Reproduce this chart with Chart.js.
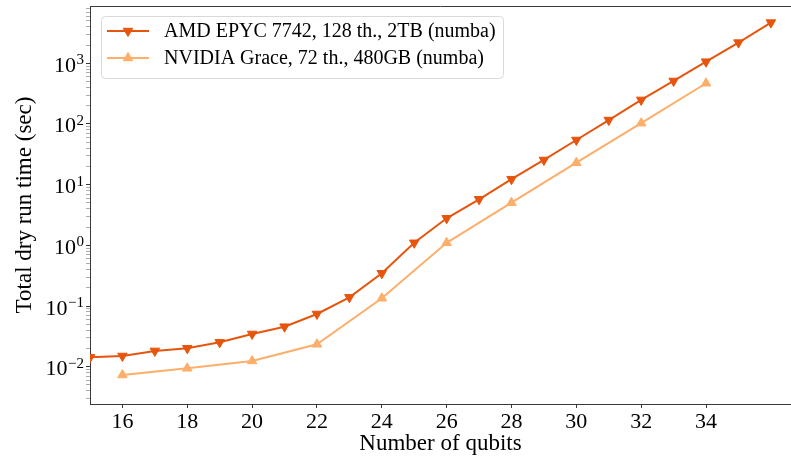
<!DOCTYPE html>
<html>
<head>
<meta charset="utf-8">
<script src="https://cdn.jsdelivr.net/npm/chart.js@4.4.0/dist/chart.umd.min.js"></script>
<style>
html, body { margin: 0; padding: 0; background: #fff; }
</style>
</head>
<body>
<canvas id="dryRunChart" width="791" height="457"></canvas>
<script>
// qubit counts and total dry run time (sec)
const QUBITS_AMD = [15, 16, 17, 18, 19, 20, 21, 22, 23, 24, 25, 26, 27, 28, 29, 30, 31, 32, 33, 34, 35, 36];
const TIME_AMD = [0.0143, 0.0150, 0.0182, 0.0201, 0.0252, 0.0346, 0.0456, 0.0738, 0.139, 0.346, 1.10, 2.79, 5.74, 12.3, 25.5, 54.4, 116, 249, 511, 1062, 2190, 4680];

const QUBITS_GRACE = [16, 18, 20, 22, 24, 26, 28, 30, 32, 34];
const TIME_GRACE = [0.0073, 0.0094, 0.0124, 0.0234, 0.134, 1.10, 5.05, 23.0, 103, 469];

const LABEL_AMD = 'AMD EPYC 7742, 128 th., 2TB (numba)';
const LABEL_GRACE = 'NVIDIA Grace, 72 th., 480GB (numba)';

const X_TICKS = [16, 18, 20, 22, 24, 26, 28, 30, 32, 34];
const Y_DECADES = [-2, -1, 0, 1, 2, 3];

const SERIF = "'Liberation Serif', 'Times New Roman', 'DejaVu Serif', serif";
const AXIS_COLOR = '#3a3a3a';

function toPoints(xs, ys) {
    return xs.map((x, i) => ({x: x, y: ys[i]}));
}

// 10^n labels with a real superscript, placed through the y scale
const decadeLabels = {
    id: 'decadeLabels',
    afterDraw(chart) {
        const {ctx} = chart;
        const yScale = chart.scales.y;
        const right = yScale.right - 6;
        ctx.save();
        ctx.fillStyle = '#000';
        ctx.textBaseline = 'alphabetic';
        Y_DECADES.forEach(e => {
            const py = yScale.getPixelForValue(Math.pow(10, e));
            const exp = e < 0 ? '\u2212' + (-e) : String(e);
            ctx.font = '15px ' + SERIF;
            const ew = ctx.measureText(exp).width;
            ctx.fillText(exp, right - ew, py + 1);
            ctx.font = '22px ' + SERIF;
            const bw = ctx.measureText('10').width;
            ctx.fillText('10', right - ew - bw - 0.5, py + 8.5);
        });
        ctx.restore();
    }
};

// matplotlib style legend box inside the axes, plus the top spine
const boxLegend = {
    id: 'boxLegend',
    afterDatasetsDraw(chart) {
        const {ctx, chartArea} = chart;
        ctx.save();
        ctx.strokeStyle = AXIS_COLOR;
        ctx.lineWidth = 1;
        ctx.beginPath();
        ctx.moveTo(chartArea.left, chartArea.top + 0.5);
        ctx.lineTo(chartArea.right, chartArea.top + 0.5);
        ctx.stroke();

        const x0 = chartArea.left + 11, y0 = chartArea.top + 10;
        ctx.beginPath();
        ctx.roundRect(x0 + 0.5, y0 + 0.5, 402, 62, 4);
        ctx.fillStyle = 'rgba(255,255,255,0.85)';
        ctx.fill();
        ctx.strokeStyle = '#d9d9d9';
        ctx.stroke();

        chart.data.datasets.forEach((ds, i) => {
            const y = y0 + 15 + i * 27;
            ctx.strokeStyle = ds.borderColor;
            ctx.lineWidth = ds.borderWidth;
            ctx.beginPath();
            ctx.moveTo(x0 + 6, y);
            ctx.lineTo(x0 + 48, y);
            ctx.stroke();

            const r = ds.pointRadius, cx = x0 + 27, dir = ds.pointRotation ? 1 : -1;
            ctx.fillStyle = ds.backgroundColor;
            ctx.lineWidth = 1;
            ctx.beginPath();
            ctx.moveTo(cx, y + dir * r);
            ctx.lineTo(cx - r * 0.866, y - dir * r / 2);
            ctx.lineTo(cx + r * 0.866, y - dir * r / 2);
            ctx.closePath();
            ctx.fill();
            ctx.stroke();

            ctx.fillStyle = '#000';
            ctx.font = '20px ' + SERIF;
            ctx.textBaseline = 'middle';
            ctx.fillText(ds.label, x0 + 63, y + 1);
        });
        ctx.restore();
    }
};

const dataDryRun = {
    datasets: [
        {
            label: LABEL_AMD,
            data: toPoints(QUBITS_AMD, TIME_AMD),
            borderColor: '#e6550d',
            backgroundColor: '#e6550d',
            borderWidth: 2,
            pointStyle: 'triangle',
            pointRotation: 180,
            pointRadius: 5.5,
            pointBorderWidth: 1
        },
        {
            label: LABEL_GRACE,
            data: toPoints(QUBITS_GRACE, TIME_GRACE),
            borderColor: '#fdae6b',
            backgroundColor: '#fdae6b',
            borderWidth: 2,
            pointStyle: 'triangle',
            pointRotation: 0,
            pointRadius: 5.5,
            pointBorderWidth: 1
        }
    ]
};

const configDryRun = {
    type: 'line',
    data: dataDryRun,
    options: {
        responsive: false,
        animation: false,
        layout: {autoPadding: false, padding: {top: 6, right: 0, left: 0, bottom: 0}},
        plugins: {
            legend: {display: false},
            tooltip: {enabled: false}
        },
        scales: {
            x: {
                type: 'linear',
                min: 15,
                max: 36.62,
                afterBuildTicks: scale => {
                    scale.ticks = X_TICKS.map(v => ({value: v}));
                },
                afterFit: scale => {
                    scale.height = 53;
                    scale.paddingLeft = 0;
                    scale.paddingRight = 0;
                },
                border: {color: AXIS_COLOR, width: 1},
                grid: {drawOnChartArea: false, tickLength: 4, color: AXIS_COLOR},
                ticks: {
                    color: '#000',
                    padding: 1,
                    maxRotation: 0,
                    autoSkip: false,
                    font: {family: SERIF, size: 22}
                },
                title: {
                    display: true,
                    text: 'Number of qubits',
                    color: '#000',
                    padding: {top: 0, bottom: -1},
                    font: {family: SERIF, size: 23}
                }
            },
            y: {
                type: 'logarithmic',
                min: 0.002427,
                max: 8790,
                afterBuildTicks: scale => {
                    const ticks = [];
                    for (let e = -3; e <= 3; e++) {
                        for (let m = 1; m <= 9; m++) {
                            const v = m * Math.pow(10, e);
                            if (v >= scale.min && v <= scale.max) {
                                ticks.push({value: v, major: m === 1});
                            }
                        }
                    }
                    scale.ticks = ticks;
                },
                afterFit: scale => {
                    scale.width = 90;
                    scale.paddingTop = 0;
                    scale.paddingBottom = 0;
                },
                border: {color: AXIS_COLOR, width: 1},
                grid: {
                    drawOnChartArea: false,
                    tickLength: 4,
                    tickColor: ctx => (ctx.tick && ctx.tick.major) ? AXIS_COLOR : '#8a8a8a',
                    tickWidth: ctx => (ctx.tick && ctx.tick.major) ? 1 : 0.7
                },
                ticks: {
                    color: '#000',
                    padding: 3,
                    autoSkip: false,
                    font: {family: SERIF, size: 22},
                    callback: () => ''
                },
                title: {
                    display: true,
                    text: 'Total dry run time (sec)',
                    color: '#000',
                    padding: {top: 11, bottom: 0},
                    font: {family: SERIF, size: 23}
                }
            }
        }
    },
    plugins: [boxLegend, decadeLabels]
};

var dryRunChart = new Chart(
    document.getElementById('dryRunChart'),
    configDryRun
);
</script>
</body>
</html>
